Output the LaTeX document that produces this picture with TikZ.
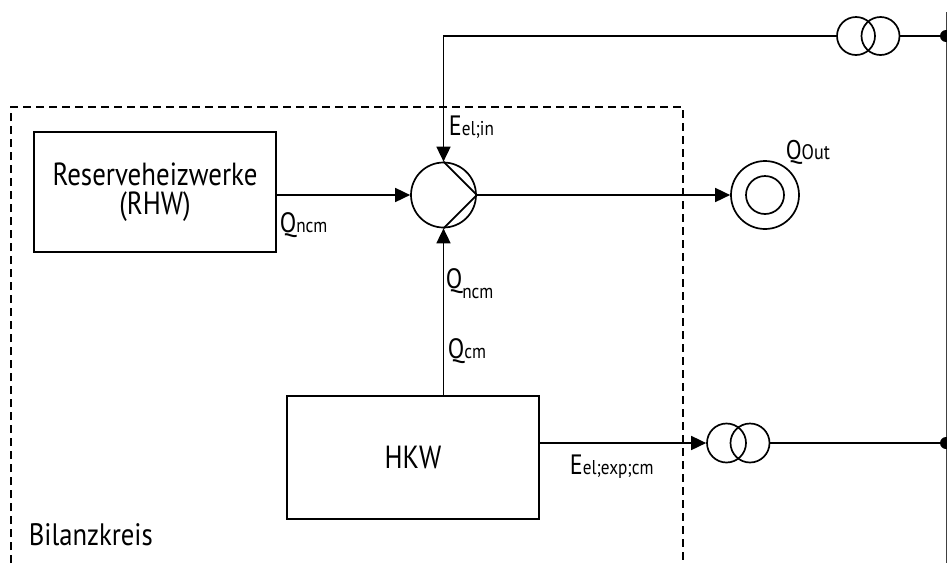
\documentclass[tikz,border=0pt]{standalone}
\usepackage{fontspec}
\setmainfont{PT Sans}[FakeStretch=0.86]
\newfontfamily\boxfont{PT Sans}[FakeStretch=0.84]
\usetikzlibrary{arrows.meta}
\newcommand{\symlbl}[3][0pt]{{\fontsize{28}{28}\selectfont #2}\raisebox{#1}{\fontsize{20}{20}\selectfont #3}}
\begin{document}
\begin{tikzpicture}[x=1pt,y=-1pt,line width=1.7pt,
  arr/.style={-{Triangle[length=15pt,width=14pt]}},
  box/.style={draw,line width=1.7pt,inner sep=0pt,align=center,font=\boxfont\fontsize{32}{29}\selectfont},
  ring/.style={draw,circle,line width=1.7pt,inner sep=0pt},
  lbl/.style={anchor=base west,inner sep=0pt},
  dot/.style={circle,fill=black,inner sep=0pt,minimum size=12pt},
  border/.style={dashed,dash pattern=on 8pt off 5pt,line width=1.7pt}]
\useasboundingbox (0,0) rectangle (947,563);

% balance boundary
\coordinate (bl) at (11,563);
\coordinate (tl) at (11,107);
\coordinate (tr) at (683,107);
\coordinate (br) at (683,563);
\draw[border] (bl) -- (tl) -- (tr) -- (br);

% boxes
\node[box,minimum width=242pt,minimum height=120pt] (rhw) at (155,192) {Reserveheizwerke\\(RHW)};
\node[box,minimum width=252pt,minimum height=123pt] (hkw) at (413,457.5) {HKW};

% heat pump
\node[ring,minimum size=65pt] (pump) at (443.5,195) {};
\draw (pump.north) -- (pump.east) -- (pump.south);

% heat output
\node[ring,minimum size=68pt] (qout) at (765,195) {};
\node[ring,minimum size=38pt] (qoutin) at (765,195) {};

% transformers
\node[ring,minimum size=38pt] (tra) at (856,36) {};
\node[ring,minimum size=38pt] (trb) at (880.5,36) {};
\node[ring,minimum size=39pt] (tsa) at (726.5,443) {};
\node[ring,minimum size=39pt] (tsb) at (750,443) {};

% grid
\coordinate (gtop) at (946,12);
\coordinate (gbot) at (946,563);
\draw[line width=1pt,black!75] (gtop) -- (gbot);
\node[dot] (d1) at (946,36) {};
\node[dot] (d2) at (946,443) {};

% connectors
\coordinate (corner) at (443.5,36);
\draw[arr] (tra.west) -- (corner) -- (pump.north);
\draw (trb.east) -- (d1.center);
\draw[arr] (rhw.east |- pump) -- (pump.west);
\draw[arr] (pump |- hkw.north) -- (pump.south);
\draw[arr] (pump.east) -- (qout.west);
\draw[arr] (hkw.east |- tsa) -- (tsa.west);
\draw (tsb.east) -- (d2.center);

% labels
\node[lbl] (l1) at (279,232) {\symlbl{Q}{ncm}};
\node[lbl] (l2) at (448,135) {\symlbl{E}{el;in}};
\node[lbl] (l3) at (785,159) {{\fontsize{27}{27}\selectfont Q}{\fontsize{21}{21}\selectfont Out}};
\node[lbl] (l4) at (445,288) {\symlbl[-10pt]{Q}{ncm}};
\node[lbl] (l5) at (447,358) {\symlbl{Q}{cm}};
\node[lbl] (l6) at (569,474) {\symlbl{E}{el;exp;cm}};
\node[lbl,font=\fontsize{31}{31}\selectfont] (l7) at (28,545) {Bilanzkreis};
\end{tikzpicture}
\end{document}
